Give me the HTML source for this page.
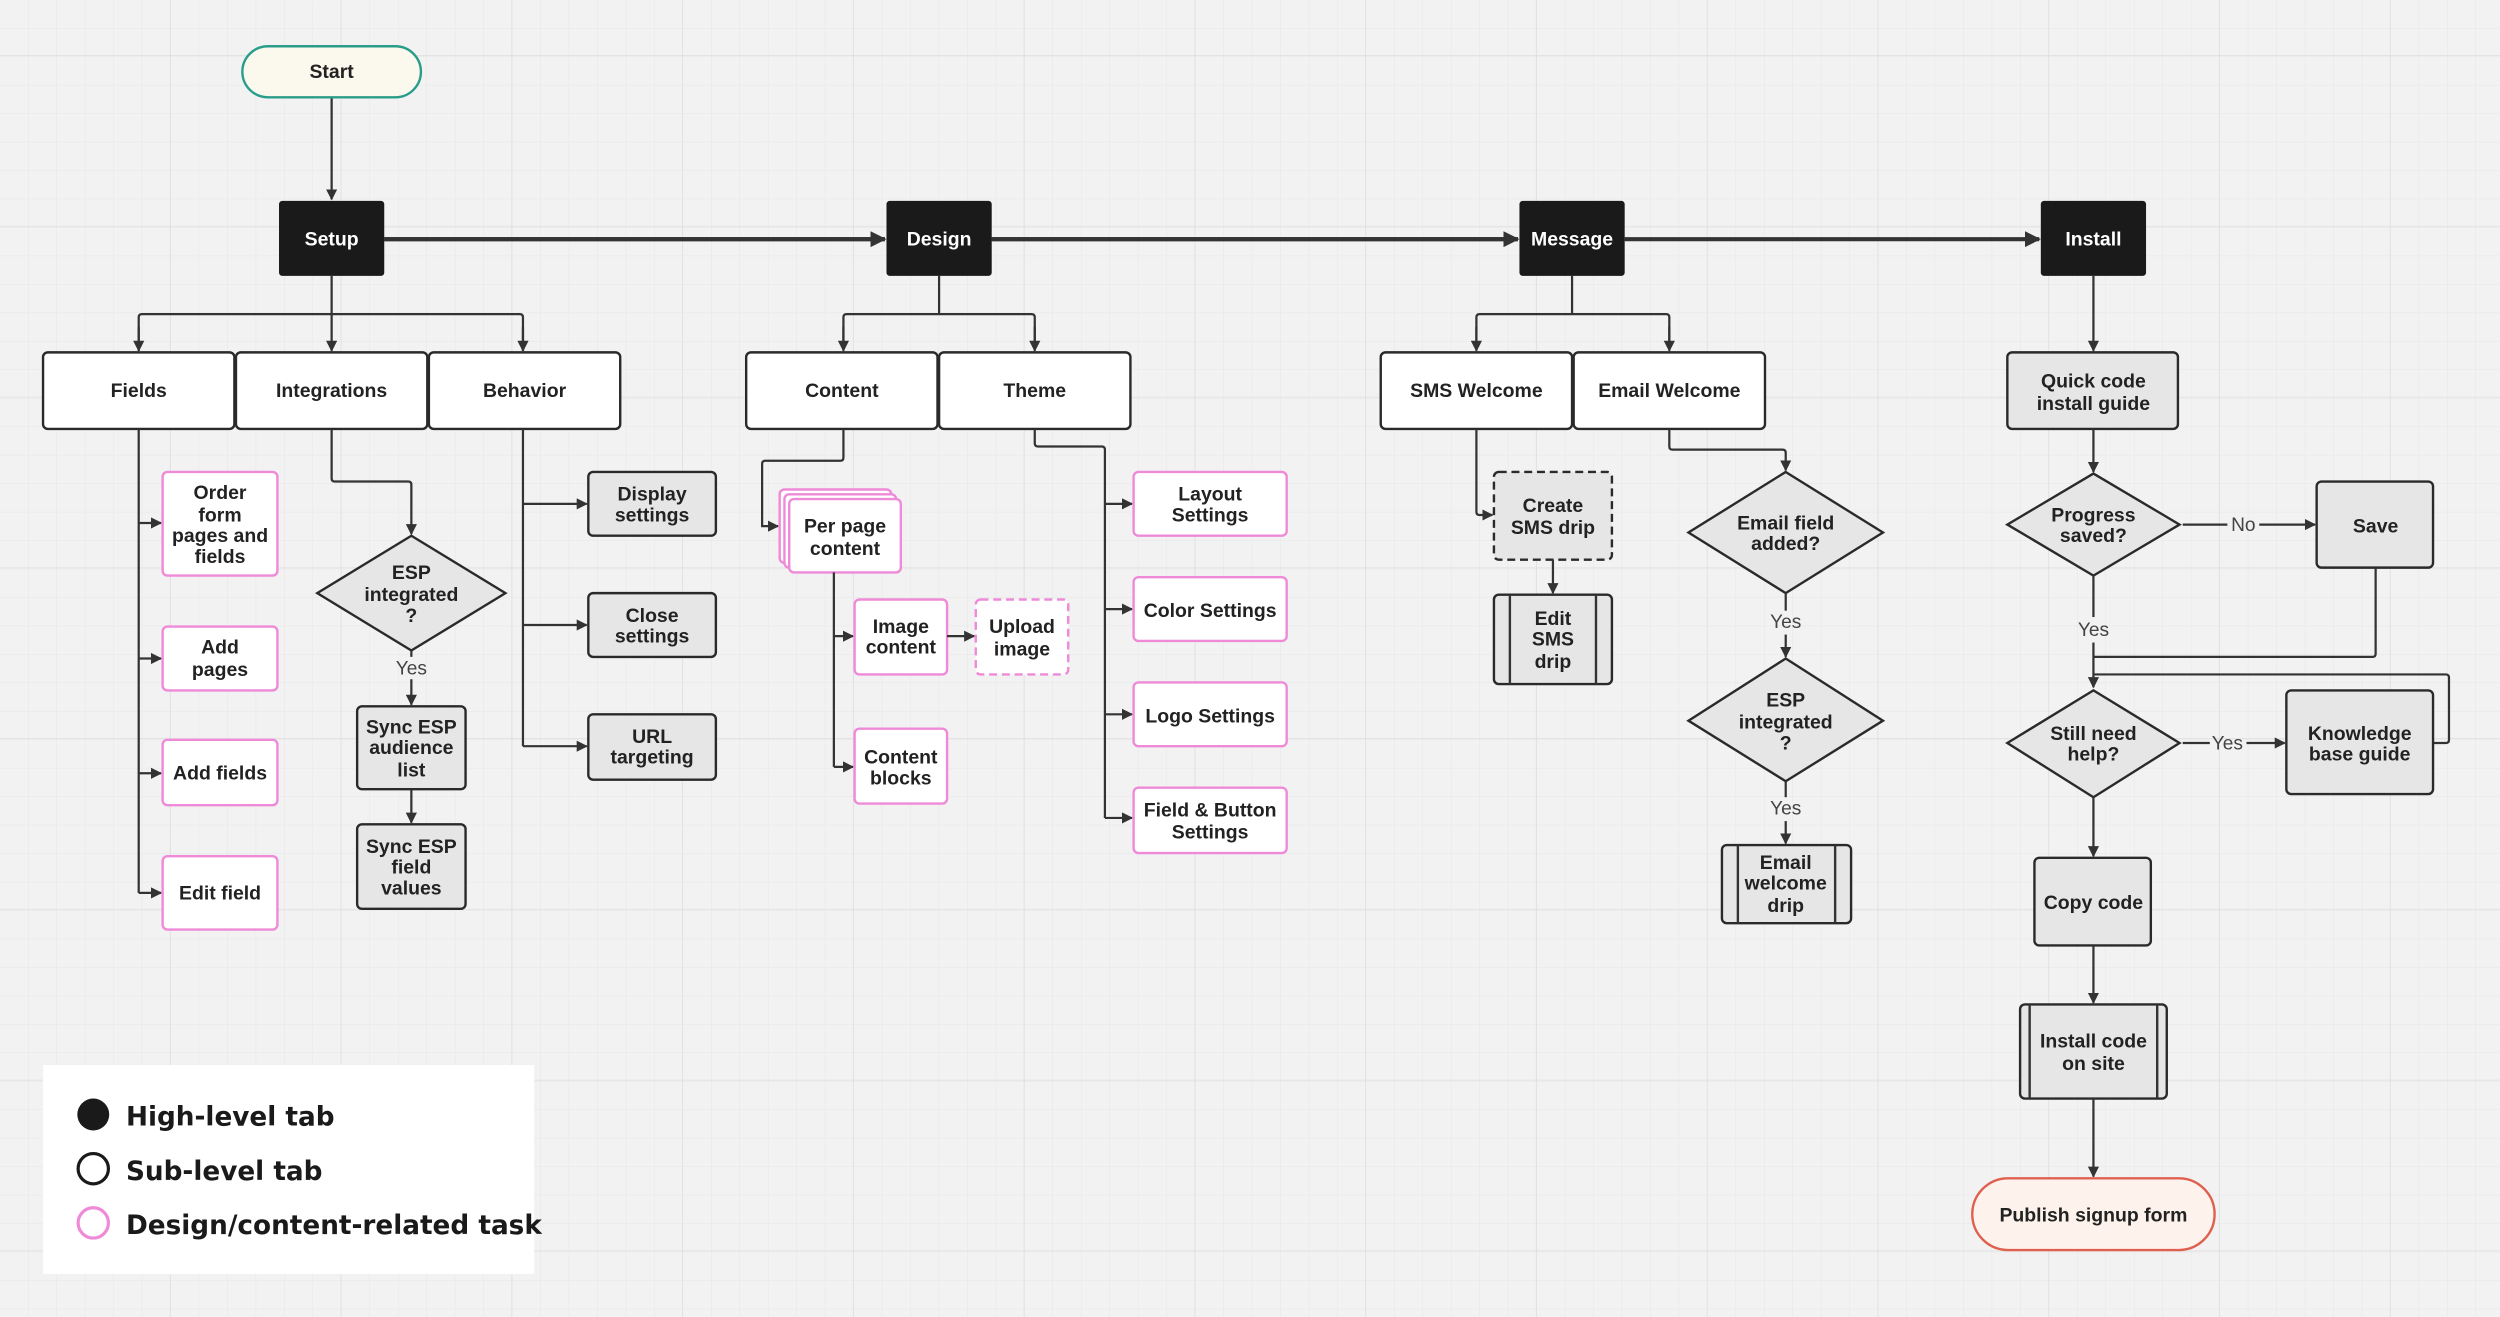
<!DOCTYPE html>
<html><head><meta charset="utf-8"><style>
html,body{margin:0;padding:0;background:#f2f2f2;}
svg{display:block;}
text{font-family:"Liberation Sans",Arial,sans-serif;font-weight:bold;font-size:12.2px;fill:#222;text-anchor:middle;}
.l{font-weight:normal;fill:#444;font-size:12px;}
.lg{font-family:"DejaVu Sans","Liberation Sans",sans-serif;font-size:16.5px;text-anchor:start;fill:#1a1a1a;}
.w{fill:#fff;stroke:#2a2a2a;stroke-width:1.5;}
.p{fill:#fff;stroke:#ee8ad8;stroke-width:1.5;}
.g{fill:#e6e6e6;stroke:#2a2a2a;stroke-width:1.5;}
.c{fill:none;stroke:#333;stroke-width:1.4;}
</style></head><body>
<svg width="2500" height="1317" viewBox="0 0 1568 826" xmlns="http://www.w3.org/2000/svg">
<defs>
<pattern id="mn" width="17.85" height="17.85" patternUnits="userSpaceOnUse"><path d="M17.85 0V17.85H0" fill="none" stroke="#e6e6e6" stroke-width="0.6"/></pattern>
<pattern id="mj" width="107.1" height="107.1" patternUnits="userSpaceOnUse" x="0" y="-72"><path d="M107.1 0V107.1H0" fill="none" stroke="#dedede" stroke-width="1"/></pattern>
<marker id="a" viewBox="0 0 10 10" refX="9" refY="5" markerWidth="7" markerHeight="7" orient="auto" markerUnits="userSpaceOnUse"><path d="M0 0L10 5L0 10z" fill="#333"/></marker>
<marker id="b" viewBox="0 0 10 10" refX="9" refY="5" markerWidth="10" markerHeight="10" orient="auto" markerUnits="userSpaceOnUse"><path d="M0 0L10 5L0 10z" fill="#333"/></marker>
</defs>
<rect width="1568" height="826" fill="#f2f2f2"/>
<rect width="1568" height="826" fill="url(#mn)"/>
<rect width="1568" height="826" fill="url(#mj)"/>

<!-- main flow -->
<path class="c" d="M208 61V125" marker-end="url(#a)"/>
<path d="M241 150H555M622 150H952M1019 150H1279" fill="none" stroke="#333" stroke-width="2.6" marker-end="url(#b)"/>
<path d="M241 150H555" fill="none" stroke="#333" stroke-width="2.6" marker-end="url(#b)"/>
<path d="M622 150H952" fill="none" stroke="#333" stroke-width="2.6" marker-end="url(#b)"/>

<rect x="152" y="29" width="112" height="32" rx="16" fill="#fbf8ee" stroke="#2a9d8a" stroke-width="1.5"/>
<text x="208" y="49">Start</text>
<rect x="175" y="126" width="66" height="47" rx="2" fill="#1a1a1a"/><text x="208" y="154" style="fill:#fff">Setup</text>
<rect x="556" y="126" width="66" height="47" rx="2" fill="#1a1a1a"/><text x="589" y="154" style="fill:#fff">Design</text>
<rect x="953" y="126" width="66" height="47" rx="2" fill="#1a1a1a"/><text x="986" y="154" style="fill:#fff">Message</text>
<rect x="1280" y="126" width="66" height="47" rx="2" fill="#1a1a1a"/><text x="1313" y="154" style="fill:#fff">Install</text>

<!-- branch connectors -->
<path class="c" d="M208 173V197M87 220V199q0-2 2-2H326q2 0 2 2V220" />
<path class="c" d="M87 205V220" marker-end="url(#a)"/><path class="c" d="M208 197V220" marker-end="url(#a)"/><path class="c" d="M328 205V220" marker-end="url(#a)"/>
<path class="c" d="M589 173V197M529 214V199q0-2 2-2H647q2 0 2 2V214"/>
<path class="c" d="M529 205V220" marker-end="url(#a)"/><path class="c" d="M649 205V220" marker-end="url(#a)"/>
<path class="c" d="M986 173V197M926 214V199q0-2 2-2H1045q2 0 2 2V214"/>
<path class="c" d="M926 205V220" marker-end="url(#a)"/><path class="c" d="M1047 205V220" marker-end="url(#a)"/>
<path class="c" d="M1313 173V220" marker-end="url(#a)"/>

<!-- sub tabs -->
<rect class="w" x="27" y="221" width="120" height="48" rx="3"/><text x="87" y="249">Fields</text>
<rect class="w" x="148" y="221" width="120" height="48" rx="3"/><text x="208" y="249">Integrations</text>
<rect class="w" x="269" y="221" width="120" height="48" rx="3"/><text x="329" y="249">Behavior</text>
<rect class="w" x="468" y="221" width="120" height="48" rx="3"/><text x="528" y="249">Content</text>
<rect class="w" x="589" y="221" width="120" height="48" rx="3"/><text x="649" y="249">Theme</text>
<rect class="w" x="866" y="221" width="120" height="48" rx="3"/><text x="926" y="249">SMS Welcome</text>
<rect class="w" x="987" y="221" width="120" height="48" rx="3"/><text x="1047" y="249">Email Welcome</text>
<rect class="g" x="1259" y="221" width="107" height="48" rx="3"/><text x="1313" y="243">Quick code</text><text x="1313" y="257">install guide</text>

<!-- Fields column -->
<path class="c" d="M87 269V560"/>
<path class="c" d="M87 328H101" marker-end="url(#a)"/><path class="c" d="M87 413H101" marker-end="url(#a)"/>
<path class="c" d="M87 485H101" marker-end="url(#a)"/><path class="c" d="M87 560H101" marker-end="url(#a)"/>
<rect class="p" x="102" y="296" width="72" height="65" rx="3"/><text x="138" y="313">Order</text><text x="138" y="327">form</text><text x="138" y="340">pages and</text><text x="138" y="353">fields</text>
<rect class="p" x="102" y="393" width="72" height="40" rx="3"/><text x="138" y="410">Add</text><text x="138" y="424">pages</text>
<rect class="p" x="102" y="464" width="72" height="41" rx="3"/><text x="138" y="489">Add fields</text>
<rect class="p" x="102" y="537" width="72" height="46" rx="3"/><text x="138" y="564">Edit field</text>

<!-- Integrations -->
<path class="c" d="M208 269V300q0 2 2 2H256q2 0 2 2V335" marker-end="url(#a)"/>
<polygon class="g" points="258,336 317,372 258,408 199,372"/>
<text x="258" y="363">ESP</text><text x="258" y="377">integrated</text><text x="258" y="390">?</text>
<path class="c" d="M258 408V412M258 426V442" marker-end="url(#a)"/><text class="l" x="258" y="423">Yes</text>
<rect class="g" x="224" y="443" width="68" height="52" rx="3"/><text x="258" y="460">Sync ESP</text><text x="258" y="473">audience</text><text x="258" y="487">list</text>
<path class="c" d="M258 495V516" marker-end="url(#a)"/>
<rect class="g" x="224" y="517" width="68" height="53" rx="3"/><text x="258" y="535">Sync ESP</text><text x="258" y="548">field</text><text x="258" y="561">values</text>

<!-- Behavior -->
<path class="c" d="M328 269V468"/>
<path class="c" d="M328 316H368" marker-end="url(#a)"/><path class="c" d="M328 392H368" marker-end="url(#a)"/><path class="c" d="M328 468H368" marker-end="url(#a)"/>
<rect class="g" x="369" y="296" width="80" height="40" rx="3"/><text x="409" y="314">Display</text><text x="409" y="327">settings</text>
<rect class="g" x="369" y="372" width="80" height="40" rx="3"/><text x="409" y="390">Close</text><text x="409" y="403">settings</text>
<rect class="g" x="369" y="448" width="80" height="41" rx="3"/><text x="409" y="466">URL</text><text x="409" y="479">targeting</text>

<!-- Content -->
<path class="c" d="M529 269V287q0 2-2 2H480q-2 0-2 2V330H488" marker-end="url(#a)"/>
<rect class="p" x="489" y="307" width="70" height="46" rx="3"/>
<rect class="p" x="492" y="310" width="70" height="46" rx="3"/>
<rect class="p" x="495" y="313" width="70" height="46" rx="3"/>
<text x="530" y="334">Per page</text><text x="530" y="348">content</text>
<path class="c" d="M523 359V481"/>
<path class="c" d="M523 399H535" marker-end="url(#a)"/><path class="c" d="M523 481H535" marker-end="url(#a)"/>
<rect class="p" x="536" y="376" width="58" height="47" rx="3"/><text x="565" y="397">Image</text><text x="565" y="410">content</text>
<path class="c" d="M594 399H611" marker-end="url(#a)"/>
<rect x="612" y="376" width="58" height="47" rx="3" fill="#fff" stroke="#ee8ad8" stroke-width="1.5" stroke-dasharray="5 3"/><text x="641" y="397">Upload</text><text x="641" y="411">image</text>
<rect class="p" x="536" y="457" width="58" height="47" rx="3"/><text x="565" y="479">Content</text><text x="565" y="492">blocks</text>

<!-- Theme -->
<path class="c" d="M649 269V278q0 2 2 2H691q2 0 2 2V513"/>
<path class="c" d="M693 316H710" marker-end="url(#a)"/><path class="c" d="M693 382H710" marker-end="url(#a)"/>
<path class="c" d="M693 448H710" marker-end="url(#a)"/><path class="c" d="M693 513H710" marker-end="url(#a)"/>
<rect class="p" x="711" y="296" width="96" height="40" rx="3"/><text x="759" y="314">Layout</text><text x="759" y="327">Settings</text>
<rect class="p" x="711" y="362" width="96" height="40" rx="3"/><text x="759" y="387">Color Settings</text>
<rect class="p" x="711" y="428" width="96" height="40" rx="3"/><text x="759" y="453">Logo Settings</text>
<rect class="p" x="711" y="494" width="96" height="41" rx="3"/><text x="759" y="512">Field &amp; Button</text><text x="759" y="526">Settings</text>

<!-- SMS -->
<path class="c" d="M926 269V321q0 2 2 2H936" marker-end="url(#a)"/>
<rect x="937" y="296" width="74" height="55" rx="3" fill="#e6e6e6" stroke="#2a2a2a" stroke-width="1.5" stroke-dasharray="5 3"/>
<text x="974" y="321">Create</text><text x="974" y="335">SMS drip</text>
<path class="c" d="M974 351V372" marker-end="url(#a)"/>
<rect class="g" x="937" y="373" width="74" height="56" rx="3"/><path class="c" d="M947 373V429M1001 373V429" style="stroke-width:1.5"/>
<text x="974" y="392">Edit</text><text x="974" y="405">SMS</text><text x="974" y="419">drip</text>

<!-- Email -->
<path class="c" d="M1047 269V280q0 2 2 2H1118q2 0 2 2V295" marker-end="url(#a)"/>
<polygon class="g" points="1120,296 1181,334 1120,372 1059,334"/>
<text x="1120" y="332">Email field</text><text x="1120" y="345">added?</text>
<path class="c" d="M1120 372V383"/><text class="l" x="1120" y="394">Yes</text><path class="c" d="M1120 398V412" marker-end="url(#a)"/>
<polygon class="g" points="1120,413 1181,452 1120,490 1059,452"/>
<text x="1120" y="443">ESP</text><text x="1120" y="457">integrated</text><text x="1120" y="470">?</text>
<path class="c" d="M1120 490V500"/><text class="l" x="1120" y="511">Yes</text><path class="c" d="M1120 515V529" marker-end="url(#a)"/>
<rect class="g" x="1080" y="530" width="81" height="49" rx="3"/><path class="c" d="M1090 530V579M1151 530V579" style="stroke-width:1.5"/>
<text x="1120" y="545">Email</text><text x="1120" y="558">welcome</text><text x="1120" y="572">drip</text>

<!-- Install -->
<path class="c" d="M1313 269V296" marker-end="url(#a)"/>
<polygon class="g" points="1313,297 1367,329 1313,361 1259,329"/>
<text x="1313" y="327">Progress</text><text x="1313" y="340">saved?</text>
<path class="c" d="M1369 329H1397"/><text class="l" x="1407" y="333">No</text><path class="c" d="M1417 329H1452" marker-end="url(#a)"/>
<rect class="g" x="1453" y="302" width="73" height="54" rx="3"/><text x="1490" y="334">Save</text>
<path class="c" d="M1313 361V387"/><text class="l" x="1313" y="399">Yes</text><path class="c" d="M1313 403V431" marker-end="url(#a)"/>
<path class="c" d="M1490 356V410q0 2-2 2H1313"/>
<path class="c" d="M1526 466H1534q2 0 2-2V425q0-2-2-2H1313"/>
<polygon class="g" points="1313,433 1367,466 1313,500 1259,466"/>
<text x="1313" y="464">Still need</text><text x="1313" y="477">help?</text>
<path class="c" d="M1369 466H1386"/><text class="l" x="1397" y="470">Yes</text><path class="c" d="M1409 466H1433" marker-end="url(#a)"/>
<rect class="g" x="1434" y="433" width="92" height="65" rx="3"/><text x="1480" y="464">Knowledge</text><text x="1480" y="477">base guide</text>
<path class="c" d="M1313 500V537" marker-end="url(#a)"/>
<rect class="g" x="1276" y="538" width="73" height="55" rx="3"/><text x="1313" y="570">Copy code</text>
<path class="c" d="M1313 593V629" marker-end="url(#a)"/>
<rect class="g" x="1267" y="630" width="92" height="59" rx="3"/><path class="c" d="M1273 630V689M1353 630V689" style="stroke-width:1.5"/>
<text x="1313" y="657">Install code</text><text x="1313" y="671">on site</text>
<path class="c" d="M1313 689V738" marker-end="url(#a)"/>
<rect x="1237" y="739" width="152" height="45" rx="22.5" fill="#fdf3ec" stroke="#e0604f" stroke-width="1.5"/>
<text x="1313" y="766">Publish signup form</text>

<!-- legend -->
<rect x="27" y="668" width="308" height="131" fill="#fff"/>
<circle cx="58.5" cy="699" r="10" fill="#1a1a1a"/>
<circle cx="58.5" cy="733" r="9.5" fill="#fff" stroke="#1a1a1a" stroke-width="2"/>
<circle cx="58.5" cy="767" r="9.5" fill="#fff" stroke="#ee8ad8" stroke-width="2"/>
<text class="lg" x="79" y="706">High-level tab</text>
<text class="lg" x="79" y="740">Sub-level tab</text>
<text class="lg" x="79" y="774">Design/content-related task</text>
</svg>
</body></html>
